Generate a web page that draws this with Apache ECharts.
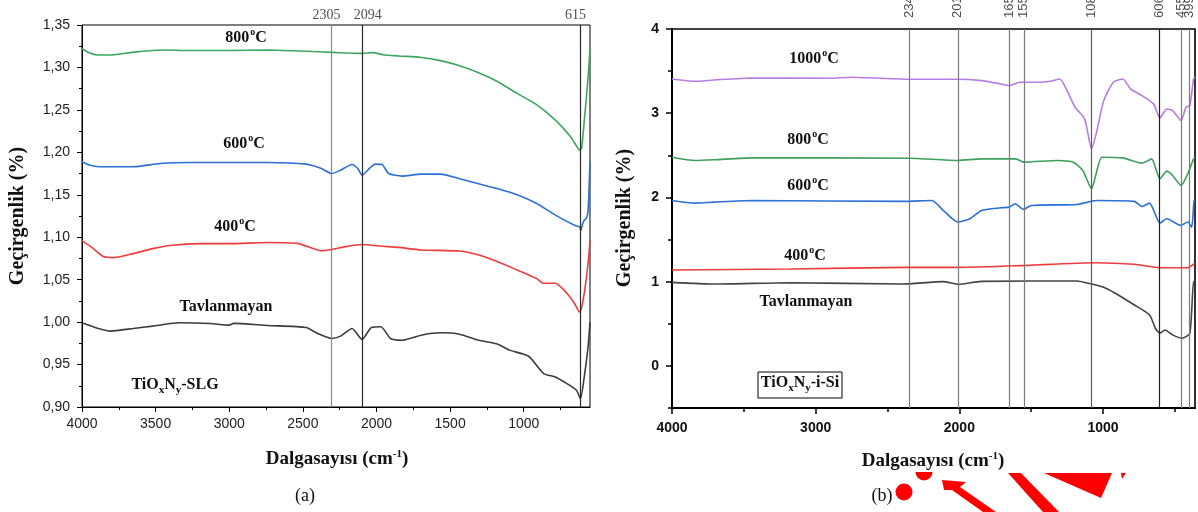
<!DOCTYPE html>
<html>
<head>
<meta charset="utf-8">
<script src="https://cdn.jsdelivr.net/npm/echarts@6/dist/echarts.min.js"></script>
<style>
  html, body { margin: 0; padding: 0; background: #fff; }
  #chart { width: 1198px; height: 512px; }
</style>
</head>
<body>
<div id="chart"></div>
<script>
// ---------- (a) TiOxNy on soda-lime glass ----------
const slgX800 = [4000, 3960, 3885, 3781, 3650, 3520, 3442, 3300, 3000, 2739, 2478, 2304, 2200, 2098, 2022, 1957, 1850, 1697, 1566, 1436, 1306, 1176, 1045, 915, 785, 681, 640, 620, 607, 590, 576, 560, 550];
const slgY800 = [1.3225, 1.318, 1.3146, 1.315, 1.318, 1.320, 1.3205, 1.320, 1.320, 1.3205, 1.319, 1.3178, 1.317, 1.3166, 1.3174, 1.315, 1.3135, 1.3118, 1.308, 1.302, 1.2938, 1.2832, 1.2694, 1.2565, 1.238, 1.2182, 1.207, 1.2026, 1.2045, 1.235, 1.262, 1.295, 1.3225];

const slgX600 = [4000, 3950, 3885, 3651, 3468, 3260, 3000, 2739, 2478, 2374, 2304, 2244, 2166, 2127, 2098, 2048, 2009, 1962, 1918, 1827, 1697, 1566, 1436, 1306, 1176, 1045, 915, 785, 655, 620, 612, 600, 589, 575, 563, 550];
const slgY600 = [1.1888, 1.185, 1.183, 1.183, 1.1869, 1.188, 1.188, 1.188, 1.1861, 1.181, 1.175, 1.179, 1.1857, 1.181, 1.173, 1.181, 1.1861, 1.1857, 1.175, 1.172, 1.1743, 1.1743, 1.169, 1.163, 1.157, 1.150, 1.140, 1.126, 1.114, 1.112, 1.108, 1.116, 1.120, 1.122, 1.131, 1.189];

const slgX400 = [4000, 3937, 3859, 3781, 3651, 3520, 3390, 3200, 3000, 2739, 2530, 2374, 2304, 2218, 2098, 1957, 1850, 1697, 1436, 1306, 1176, 1045, 915, 864, 785, 707, 655, 621, 610, 589, 563, 550];
const slgY400 = [1.0957, 1.0886, 1.0776, 1.076, 1.0807, 1.0866, 1.0906, 1.0925, 1.0925, 1.0937, 1.0925, 1.0839, 1.0855, 1.0886, 1.0914, 1.0894, 1.088, 1.085, 1.0838, 1.079, 1.071, 1.0614, 1.0516, 1.0457, 1.0457, 1.034, 1.022, 1.012, 1.015, 1.034, 1.069, 1.096];

const slgXRaw = [4000, 3911, 3807, 3651, 3520, 3338, 3130, 3000, 2970, 2739, 2478, 2400, 2304, 2244, 2166, 2098, 2035, 1970, 1905, 1827, 1697, 1566, 1436, 1306, 1176, 1097, 967, 864, 785, 707, 642, 615, 589, 563, 550];
const slgYRaw = [0.9992, 0.9937, 0.9894, 0.9925, 0.9953, 0.9992, 0.9984, 0.9965, 0.9985, 0.996, 0.9937, 0.9866, 0.9807, 0.9835, 0.9925, 0.9795, 0.9937, 0.9945, 0.9807, 0.9787, 0.9846, 0.9874, 0.9858, 0.9787, 0.974, 0.967, 0.9598, 0.9394, 0.9354, 0.9276, 0.9197, 0.9098, 0.9354, 0.971, 1.00];

const slgPeaks = [2305, 2094, 615];
const slgPeakColors = ['#8a8a8a', '#2a2a2a', '#2a2a2a'];
const slgPeakLabelShift = [-5, 5, -5];
const slgXTicks = [4000, 3500, 3000, 2500, 2000, 1500, 1000];
const slgXMinor = [3750, 3250, 2750, 2250, 1750, 1250, 750];

// ---------- (b) TiOxNy on i-Si ----------
const siX1000 = [4000, 3840, 3707, 3441, 2910, 2750, 2346, 2011, 1846, 1713, 1654, 1580, 1447, 1367, 1301, 1261, 1195, 1128, 1080, 1048, 995, 928, 862, 809, 729, 649, 604, 556, 516, 457, 423, 396, 370, 360];
const siY1000 = [3.407, 3.379, 3.395, 3.419, 3.415, 3.427, 3.403, 3.403, 3.387, 3.348, 3.328, 3.368, 3.368, 3.379, 3.407, 3.308, 3.071, 2.933, 2.58, 2.755, 3.150, 3.368, 3.407, 3.289, 3.209, 3.111, 2.945, 3.051, 3.032, 2.913, 3.071, 3.091, 3.407, 3.43];

const siX800 = [4000, 3840, 3707, 3441, 2346, 2011, 1846, 1606, 1553, 1314, 1207, 1141, 1080, 1048, 1008, 862, 729, 662, 604, 556, 516, 457, 410, 370, 360];
const siY800 = [2.478, 2.439, 2.447, 2.470, 2.466, 2.439, 2.458, 2.458, 2.419, 2.439, 2.419, 2.320, 2.103, 2.281, 2.478, 2.470, 2.407, 2.458, 2.221, 2.312, 2.261, 2.142, 2.281, 2.458, 2.47];

const siX600 = [4000, 3840, 3707, 3441, 2378, 2191, 2112, 2011, 1926, 1846, 1713, 1654, 1612, 1553, 1500, 1181, 1048, 782, 729, 676, 604, 556, 460, 410, 383, 367, 360];
const siY600 = [1.964, 1.933, 1.945, 1.964, 1.953, 1.964, 1.846, 1.708, 1.747, 1.846, 1.877, 1.885, 1.925, 1.858, 1.905, 1.917, 1.964, 1.953, 1.893, 1.933, 1.696, 1.747, 1.668, 1.708, 1.648, 1.964, 1.97];

const siX400 = [4000, 3176, 2378, 2005, 1580, 1048, 782, 604, 410, 362];
const siY400 = [1.138, 1.150, 1.170, 1.170, 1.190, 1.225, 1.206, 1.166, 1.166, 1.217];

const siXRaw = [4000, 3707, 3176, 2404, 2112, 2005, 1846, 1181, 1080, 995, 915, 782, 676, 636, 604, 569, 516, 450, 396, 370, 360];
const siYRaw = [0.992, 0.972, 0.988, 0.972, 1.0, 0.968, 1.004, 1.008, 0.972, 0.933, 0.862, 0.723, 0.605, 0.447, 0.387, 0.427, 0.368, 0.328, 0.387, 1.0, 1.0];

const siPeaks = [2349, 2011, 1655, 1551, 1081, 606, 455, 399];
const siPeakColors = ['#7a7a7a', '#7a7a7a', '#7a7a7a', '#7a7a7a', '#5a5a5a', '#222222', '#7a7a7a', '#7a7a7a'];
const siXTicks = [4000, 3000, 2000, 1000];
const siXMinor = [3500, 2500, 1500, 500];
const siYTicks = [0, 1, 2, 3, 4];
const siYMinor = [-0.5, 0.5, 1.5, 2.5, 3.5];

// ---------- helpers ----------
const SERIF = '"Liberation Serif", "Times New Roman", serif';
const SANS = '"Liberation Sans", Arial, sans-serif';

function pairs(xs, ys) { return xs.map((x, i) => [x, ys[i]]); }

function curve(xs, ys, color, xi, yi, extra) {
  return Object.assign({
    type: 'line', xAxisIndex: xi, yAxisIndex: yi,
    data: pairs(xs, ys), symbol: 'none', smooth: 0.2,
    lineStyle: { color: color, width: 1.6 }, silent: true, z: 3
  }, extra || {});
}

function peakLines(peaks, colors) {
  return {
    silent: true, symbol: ['none', 'none'], label: { show: false },
    data: peaks.map((p, i) => ({ xAxis: p, lineStyle: { color: colors[i], width: 1.2, type: 'solid' } }))
  };
}

// superscript degree mark and subscript indices
const tempRich = {
  o: { fontSize: 10, fontWeight: 'bold', fontFamily: SERIF, fill: '#111', padding: [0, 0, 12, 1] }
};
const formulaRich = {
  s: { fontSize: 11, fontWeight: 'bold', fontFamily: SERIF, fill: '#111', verticalAlign: 'bottom', lineHeight: 11, padding: [0, 0, -3, 0] }
};

function note(text, x, y, rich) {
  return {
    type: 'text', x: x, y: y, silent: true,
    style: {
      text: text, fill: '#111', fontFamily: SERIF, fontWeight: 'bold', fontSize: 16,
      align: 'center', verticalAlign: 'middle', rich: rich || tempRich
    }
  };
}

const chart = echarts.init(document.getElementById('chart'), null, { renderer: 'canvas' });

const option = {
  animation: false,
  backgroundColor: '#fff',
  grid: [
    { left: 82, top: 25, width: 508, height: 382, show: true, borderColor: '#000', borderWidth: 1, backgroundColor: 'transparent' },
    { left: 672, top: 29, width: 523, height: 379, show: true, borderColor: '#000', borderWidth: 1.6, backgroundColor: 'transparent' }
  ],
  xAxis: [
    {
      gridIndex: 0, type: 'value', min: 550, max: 4000, inverse: true,
      axisLine: { show: true, onZero: false, lineStyle: { color: '#000', width: 1 } },
      axisTick: { show: true, customValues: slgXTicks, length: 5, lineStyle: { color: '#000' } },
      axisLabel: { customValues: slgXTicks, formatter: v => String(v), fontFamily: SANS, fontSize: 14, color: '#222', margin: 10 },
      splitLine: { show: false }
    },
    {
      gridIndex: 0, type: 'value', min: 550, max: 4000, inverse: true, position: 'bottom',
      axisLine: { show: false, onZero: false },
      axisTick: { show: true, customValues: slgXMinor, length: 3, lineStyle: { color: '#000' } },
      axisLabel: { show: false }, splitLine: { show: false }
    },
    {
      gridIndex: 1, type: 'value', min: 360, max: 4000, inverse: true,
      axisLine: { show: true, onZero: false, lineStyle: { color: '#000', width: 2 } },
      axisTick: { show: true, customValues: siXTicks, length: 6, lineStyle: { color: '#000', width: 1.5 } },
      axisLabel: { customValues: siXTicks, formatter: v => String(v), fontFamily: SANS, fontWeight: 'bold', fontSize: 14, color: '#111', margin: 13 },
      splitLine: { show: false }
    },
    {
      gridIndex: 1, type: 'value', min: 360, max: 4000, inverse: true, position: 'bottom',
      axisLine: { show: false, onZero: false },
      axisTick: { show: true, customValues: siXMinor, length: 4, lineStyle: { color: '#000', width: 1.5 } },
      axisLabel: { show: false }, splitLine: { show: false }
    }
  ],
  yAxis: [
    {
      gridIndex: 0, type: 'value', min: 0.9, max: 1.35, interval: 0.05,
      axisLine: { show: true, onZero: false, lineStyle: { color: '#000', width: 1 } },
      axisTick: { show: true, length: 5, lineStyle: { color: '#000' } },
      minorTick: { show: true, splitNumber: 2, length: 3, lineStyle: { color: '#000' } },
      axisLabel: { fontFamily: SANS, fontSize: 14, color: '#222', margin: 12, formatter: v => v.toFixed(2).replace('.', ',') },
      splitLine: { show: false }
    },
    {
      gridIndex: 1, type: 'value', min: -0.5, max: 4,
      axisLine: { show: true, onZero: false, lineStyle: { color: '#000', width: 2 } },
      axisTick: { show: true, customValues: siYTicks, length: 6, lineStyle: { color: '#000', width: 1.5 } },
      axisLabel: { customValues: siYTicks, formatter: v => String(v), fontFamily: SANS, fontWeight: 'bold', fontSize: 14, color: '#111', margin: 13 },
      splitLine: { show: false }
    },
    {
      gridIndex: 1, type: 'value', min: -0.5, max: 4, position: 'left',
      axisLine: { show: false, onZero: false },
      axisTick: { show: true, customValues: siYMinor, length: 4, lineStyle: { color: '#000', width: 1.5 } },
      axisLabel: { show: false }, splitLine: { show: false }
    }
  ],
  series: [
    // (a)
    curve(slgXRaw, slgYRaw, '#3c3c3c', 0, 0, { markLine: peakLines(slgPeaks, slgPeakColors) }),
    curve(slgX400, slgY400, '#ef3b3b', 0, 0),
    curve(slgX600, slgY600, '#2c6fd8', 0, 0),
    curve(slgX800, slgY800, '#3da65e', 0, 0),
    {
      type: 'scatter', xAxisIndex: 0, yAxisIndex: 0, symbolSize: 0, clip: false, silent: true,
      data: slgPeaks.map((p, i) => ({ value: [p, 1.35], label: { offset: [slgPeakLabelShift[i], 0] } })),
      label: {
        show: true, position: 'top', distance: 3, formatter: p => String(p.value[0]),
        fontFamily: SERIF, fontSize: 14, color: '#222'
      }
    },
    // (b)
    curve(siXRaw, siYRaw, '#444444', 2, 1, { markLine: peakLines(siPeaks, siPeakColors) }),
    curve(siX400, siY400, '#ee3b3b', 2, 1),
    curve(siX600, siY600, '#2b6fd8', 2, 1),
    curve(siX800, siY800, '#3e9e5c', 2, 1),
    curve(siX1000, siY1000, '#b57ee2', 2, 1),
    {
      type: 'scatter', xAxisIndex: 2, yAxisIndex: 1, symbolSize: 0, clip: false, silent: true,
      data: siPeaks.map(p => [p, 4]),
      label: {
        show: true, position: 'top', distance: 11, rotate: 90, align: 'left', verticalAlign: 'middle',
        formatter: p => String(p.value[0]), fontFamily: SANS, fontSize: 13, color: '#222'
      }
    }
  ],
  graphic: [
    // axis titles
    { type: 'text', x: 18, y: 216, rotation: Math.PI / 2, silent: true,
      style: { text: 'Geçirgenlik (%)', fontFamily: SERIF, fontWeight: 'bold', fontSize: 20, fill: '#111', align: 'center', verticalAlign: 'middle' } },
    { type: 'text', x: 625, y: 218, rotation: Math.PI / 2, silent: true,
      style: { text: 'Geçirgenlik (%)', fontFamily: SERIF, fontWeight: 'bold', fontSize: 20, fill: '#111', align: 'center', verticalAlign: 'middle' } },
    { type: 'text', x: 337, y: 459, silent: true,
      style: { text: 'Dalgasayısı (cm{e|-1})', fontFamily: SERIF, fontWeight: 'bold', fontSize: 19, fill: '#111', align: 'center', verticalAlign: 'middle',
        rich: { e: { fontFamily: SERIF, fontWeight: 'bold', fontSize: 11, fill: '#111', padding: [0, 0, 9, 0] } } } },
    { type: 'text', x: 933, y: 461, silent: true,
      style: { text: 'Dalgasayısı (cm{e|-1})', fontFamily: SERIF, fontWeight: 'bold', fontSize: 19, fill: '#111', align: 'center', verticalAlign: 'middle',
        rich: { e: { fontFamily: SERIF, fontWeight: 'bold', fontSize: 11, fill: '#111', padding: [0, 0, 9, 0] } } } },
    { type: 'text', x: 305, y: 496, silent: true,
      style: { text: '(a)', fontFamily: SERIF, fontSize: 18, fill: '#111', align: 'center', verticalAlign: 'middle' } },
    { type: 'text', x: 882, y: 496, silent: true,
      style: { text: '(b)', fontFamily: SERIF, fontSize: 18, fill: '#111', align: 'center', verticalAlign: 'middle' } },

    // curve labels (a)
    note('800{o|o}C', 246, 38),
    note('600{o|o}C', 244, 144),
    note('400{o|o}C', 235, 227),
    note('Tavlanmayan', 226, 307),
    note('TiO{s|x}N{s|y}-SLG', 175, 385, formulaRich),

    // curve labels (b)
    note('1000{o|o}C', 814, 59),
    note('800{o|o}C', 808, 140),
    note('600{o|o}C', 808, 186),
    note('400{o|o}C', 805, 256),
    note('Tavlanmayan', 806, 302),
    { type: 'rect', shape: { x: 758, y: 372, width: 84, height: 26 }, silent: true,
      style: { fill: '#fff', stroke: '#000', lineWidth: 1 }, z: 10 },
    Object.assign(note('TiO{s|x}N{s|y}-i-Si', 800, 383, formulaRich), { z: 11 }),

    // red emblem fragment along the bottom edge
    { type: 'circle', shape: { cx: 904, cy: 492, r: 8.5 }, style: { fill: '#ff0000' }, silent: true },
    { type: 'sector', shape: { cx: 924, cy: 472, r: 8.5, startAngle: 0, endAngle: Math.PI }, style: { fill: '#ff0000' }, silent: true },
    { type: 'polygon', shape: { points: [[942, 480], [966, 482], [960, 487], [996, 512], [983, 512], [952, 490], [944, 490]] }, style: { fill: '#ff0000' }, silent: true },
    { type: 'polygon', shape: { points: [[1008, 473], [1021, 473], [1059, 512], [1043, 512]] }, style: { fill: '#ff0000' }, silent: true },
    { type: 'polygon', shape: { points: [[1044, 473], [1112, 473], [1101, 498]] }, style: { fill: '#ff0000' }, silent: true },
    { type: 'polygon', shape: { points: [[1121, 473], [1126, 473], [1122, 479]] }, style: { fill: '#ff0000' }, silent: true }
  ]
};

chart.setOption(option);
</script>
</body>
</html>
